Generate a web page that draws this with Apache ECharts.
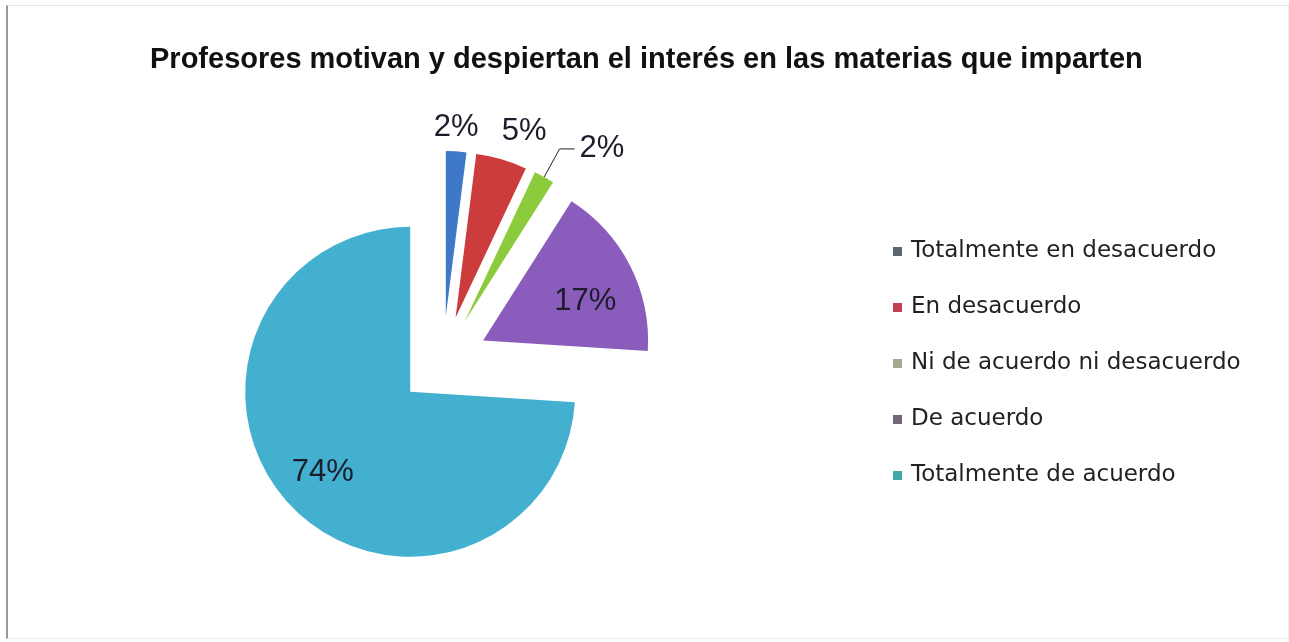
<!DOCTYPE html>
<html>
<head>
<meta charset="utf-8">
<script src="https://cdn.jsdelivr.net/npm/echarts@6/dist/echarts.min.js"></script>
<style>
  html, body { margin: 0; padding: 0; background: #fff; }
  #chart {
    position: absolute; left: 6px; top: 5px;
    width: 1280px; height: 632px;
    border-left: 2px solid #9a9a9a;
    border-top: 1px solid #e6e6e6;
    border-right: 1px solid #ececec;
    border-bottom: 1px solid #ececec;
  }
</style>
</head>
<body>
<div id="chart"></div>
<script>
// categorias y valores (porcentajes)
const categories = [
  'Totalmente en desacuerdo',
  'En desacuerdo',
  'Ni de acuerdo ni desacuerdo',
  'De acuerdo',
  'Totalmente de acuerdo'
];
const values = [2, 5, 2, 17, 74];
const sliceColors = ['#3f78c8', '#cc3c3c', '#8ccc3c', '#8a5cbc', '#44b0d0'];
const legendColors = ['#5a6670', '#c24050', '#a8a890', '#706878', '#3fa8a8'];

// ajustes de etiquetas (inside para las grandes)
const labelPos = ['outside', 'outside', 'outside', 'inside', 'inside'];
const labelShift = [[-40, -16], [-19, -20], [0, 0], [26, 0], [-25, 22]];

const chart = echarts.init(document.getElementById('chart'));

chart.setOption({
  backgroundColor: '#fff',
  animation: false,
  title: {
    text: 'Profesores motivan y despiertan el interés en las materias que imparten',
    left: 137,
    top: 34,
    textStyle: {
      fontFamily: 'Liberation Sans',
      fontWeight: 'bold',
      fontSize: 29,
      color: '#111'
    }
  },
  legend: {
    orient: 'vertical',
    left: 885,
    top: 234,
    padding: 0,
    itemWidth: 9,
    itemHeight: 9,
    itemGap: 33,
    icon: 'rect',
    selectedMode: false,
    textStyle: {
      fontFamily: 'DejaVu Sans',
      fontSize: 23,
      color: '#222',
      padding: [0, 0, 0, 4]
    },
    data: categories.map((c, i) => ({ name: c, itemStyle: { color: legendColors[i] } }))
  },
  series: [{
    type: 'pie',
    center: [435, 355],
    radius: 165,
    startAngle: 90,
    clockwise: true,
    selectedMode: 'multiple',
    selectedOffset: 45,
    avoidLabelOverlap: false,
    emphasis: { disabled: true },
    label: {
      formatter: '{c}%',
      fontFamily: 'Liberation Sans',
      fontSize: 31,
      color: '#1c1c2c'
    },
    labelLine: { show: false, length: 8, length2: 12, lineStyle: { color: '#222', width: 1 } },
    labelLayout: function (p) {
      const s = labelShift[p.dataIndex];
      return { dx: s[0], dy: s[1] };
    },
    data: values.map((v, i) => ({
      name: categories[i],
      value: v,
      selected: true,
      itemStyle: { color: sliceColors[i] },
      label: { position: labelPos[i] },
      labelLine: i === 2 ? { show: true, length: 32, length2: 15 } : { show: false }
    }))
  }]
});
</script>
</body>
</html>
